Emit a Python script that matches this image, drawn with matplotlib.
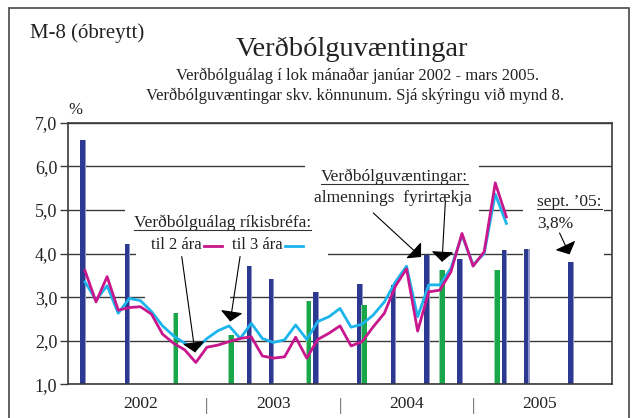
import numpy as np
import matplotlib
matplotlib.use("Agg")
import matplotlib.pyplot as plt
import matplotlib.transforms as mtransforms
from matplotlib.patches import Rectangle
from matplotlib.lines import Line2D

plt.rcParams["font.family"] = ["Liberation Serif", "DejaVu Serif"]

# Verðbólguálag ríkisbréfa í lok mánaðar, jan 2002 - mars 2005 (%)
til_2_ara = [3.61, 2.89, 3.47, 2.70, 2.76, 2.78, 2.61, 2.15, 1.94, 1.79, 1.50, 1.85,
             1.90, 1.98, 2.05, 2.09, 1.65, 1.60, 1.63, 2.08, 1.60, 2.03, 2.17, 2.34,
             1.88, 1.98, 2.32, 2.63, 3.25, 3.65, 2.22, 3.12, 3.16, 3.58, 4.46, 3.71,
             4.04, 5.62, 4.84]
til_3_ara = [3.35, 2.93, 3.26, 2.63, 2.97, 2.92, 2.67, 2.34, 2.11, 1.94, 1.81, 2.05,
             2.23, 2.34, 2.05, 2.40, 2.05, 1.96, 2.02, 2.36, 2.03, 2.44, 2.55, 2.74,
             2.31, 2.38, 2.59, 2.89, 3.35, 3.71, 2.55, 3.28, 3.28, 3.66, 4.42, 3.74,
             4.00, 5.36, 4.69]

# Verðbólguvæntingar skv. könnunum (%)
almennings_dates = ["2002-01", "2002-05", "2003-04", "2003-06", "2003-10", "2004-02",
                    "2004-05", "2004-08", "2004-11", "2005-03", "2005-05", "2005-09"]
almennings = [6.6, 4.22, 3.72, 3.41, 3.12, 3.30, 3.27, 3.97, 3.87, 4.07, 4.10, 3.8]
fyrirtaekja_dates = ["2002-09", "2003-02", "2003-09", "2004-02", "2004-09", "2005-02"]
fyrirtaekja = [2.63, 2.13, 2.92, 2.82, 3.63, 3.63]

years = ["2002", "2003", "2004", "2005"]
yticks = [1, 2, 3, 4, 5, 6, 7]


def month_index(d):
    y, m = d.split("-")
    return (int(y) - 2002) * 12 + int(m) - 1


BLUE = "#2b3990"
GREEN = "#1aa64a"
MAGENTA = "#c8168c"
CYAN = "#1cb4ec"
GRID = "#3a3a3a"
TXT = "#222222"

W, H = 638, 418
fig = plt.figure(figsize=(W / 100, H / 100), dpi=100)
ax = fig.add_axes([68.3 / W, 1 - 384.3 / H, (611.7 - 68.3) / W, (384.3 - 122.7) / H])

x_alm = np.array([month_index(d) for d in almennings_dates])
x_fyr = np.array([month_index(d) for d in fyrirtaekja_dates])
x_line = np.arange(len(til_2_ara))

# bars, with a lighter edge strip like the original
ax.bar(x_alm + 0.03, almennings, width=0.12, color="#9196c9", zorder=2)
ax.bar(x_alm - 0.22, almennings, width=0.42, color=BLUE, zorder=2)
ax.bar(x_fyr - 0.02, fyrirtaekja, width=0.1, color="#93d5a5", zorder=2)
ax.bar(x_fyr + 0.22, fyrirtaekja, width=0.42, color=GREEN, zorder=2)

ax.plot(x_line, til_3_ara, color=CYAN, lw=2.0, zorder=3)
ax.plot(x_line, til_2_ara, color=MAGENTA, lw=2.0, zorder=3)

ax.set_xlim(-1.5, 47.5)
ax.set_ylim(1, 7)
ax.set_yticks(yticks)
ax.set_yticklabels([f"{v:.1f}".replace(".", ",") for v in yticks], fontsize=13,
                   color=TXT)
ax.set_xticks([])
ax.tick_params(axis="y", direction="out", length=6, width=1, color=GRID, pad=2)
ax.grid(axis="y", color=GRID, lw=1.0)
ax.set_axisbelow(True)
for s in ax.spines.values():
    s.set_color(GRID)
    s.set_linewidth(1.2)

# white text boxes that break the gridlines
for x0, y0, x1, y1 in [(19.85, 4.15, 35.5, 6.15), (3.6, 4.6, 21.9, 5.25),
                       (4.6, 3.9, 21.9, 4.5), (5.4, 2.93, 13.1, 3.4),
                       (39.5, 3.9, 46.8, 5.35)]:
    ax.add_patch(Rectangle((x0, y0), x1 - x0, y1 - y0, facecolor="white",
                           edgecolor="none", zorder=0.8))

fs = 12.5
renderer = fig.canvas.get_renderer()


def underline(t, gap=3):
    bb = t.get_window_extent(renderer)
    yb = ax.transData.transform(t.get_position())[1] - gap
    fig.add_artist(Line2D([bb.x0 / W, bb.x1 / W], [yb / H, yb / H],
                          transform=fig.transFigure, color="#333333", lw=0.8))


arrow = dict(arrowstyle="-|>,head_length=0.45,head_width=0.5", color="black",
             lw=0.8, mutation_scale=14, shrinkA=0, shrinkB=0)

t = ax.text(12.41, 4.60, "Verðbólguálag ríkisbréfa:", ha="center", va="baseline",
            fontsize=fs, color=TXT, zorder=4)
underline(t)
ax.text(6.0, 4.10, "til 2 ára", ha="left", va="baseline", fontsize=12,
        color=TXT, zorder=4)
ax.plot([10.7, 12.4], [4.17, 4.17], color=MAGENTA, lw=2.0)
ax.text(13.24, 4.10, "til 3 ára", ha="left", va="baseline", fontsize=12,
        color=TXT, zorder=4)
ax.plot([18.0, 19.65], [4.17, 4.17], color=CYAN, lw=2.0)
ax.annotate("", xy=(9.93, 1.73), xytext=(8.73, 3.93), arrowprops=arrow, zorder=4)
ax.annotate("", xy=(13.1, 2.44), xytext=(13.99, 3.93), arrowprops=arrow, zorder=4)

t = ax.text(27.87, 5.66, "Verðbólguvæntingar:", ha="center", va="baseline",
            fontsize=fs, color=TXT, zorder=4)
underline(t)
ax.text(27.8, 5.19, "almennings  fyrirtækja", ha="center", va="baseline",
        fontsize=fs, color=TXT, zorder=4)
ax.annotate("", xy=(30.3, 3.92), xytext=(26.0, 4.93), arrowprops=arrow, zorder=4)
ax.annotate("", xy=(32.2, 3.81), xytext=(32.5, 5.19), arrowprops=arrow, zorder=4)

t = ax.text(40.78, 5.09, "sept. ’05:", ha="left", va="baseline", fontsize=fs,
            color=TXT, zorder=4)
underline(t)
ax.text(40.78, 4.60, "3,8%", ha="left", va="baseline", fontsize=fs,
        color=TXT, zorder=4)
ax.annotate("", xy=(43.7, 3.98), xytext=(42.8, 4.47), arrowprops=arrow, zorder=4)

# year labels below the axis
trans = mtransforms.blended_transform_factory(ax.transData, ax.transAxes)
for i, yr in enumerate(years):
    ax.text(i * 12 + 5, -0.09, yr, ha="center", va="baseline", fontsize=12.5,
            color=TXT, transform=trans)
    if i < len(years) - 1:
        ax.text(i * 12 + 11, -0.097, "|", ha="center", va="baseline",
                fontsize=12.5, color="#555555", transform=trans)

# header texts
fig.text(30 / W, 1 - 38 / H, "M-8 (óbreytt)", ha="left", va="baseline",
         fontsize=15, color=TXT)
fig.text(352 / W, 1 - 56 / H, "Verðbólguvæntingar", ha="center", va="baseline",
         fontsize=20.5, color=TXT)
fig.text(358 / W, 1 - 80 / H, "Verðbólguálag í lok mánaðar janúar 2002 - mars 2005.",
         ha="center", va="baseline", fontsize=12, color=TXT)
fig.text(355 / W, 1 - 100 / H, "Verðbólguvæntingar skv. könnunum. Sjá skýringu við mynd 8.",
         ha="center", va="baseline", fontsize=12, color=TXT)
fig.text(75 / W, 1 - 114 / H, "%", ha="center", va="baseline", fontsize=12,
         color=TXT)

# outer frame
fig.add_artist(Rectangle((9 / W, -0.05), 620 / W, 1.05 - 8 / H, transform=fig.transFigure,
                         fill=False, edgecolor="#555555", lw=1.3))

fig.savefig("out.png", dpi=100)
